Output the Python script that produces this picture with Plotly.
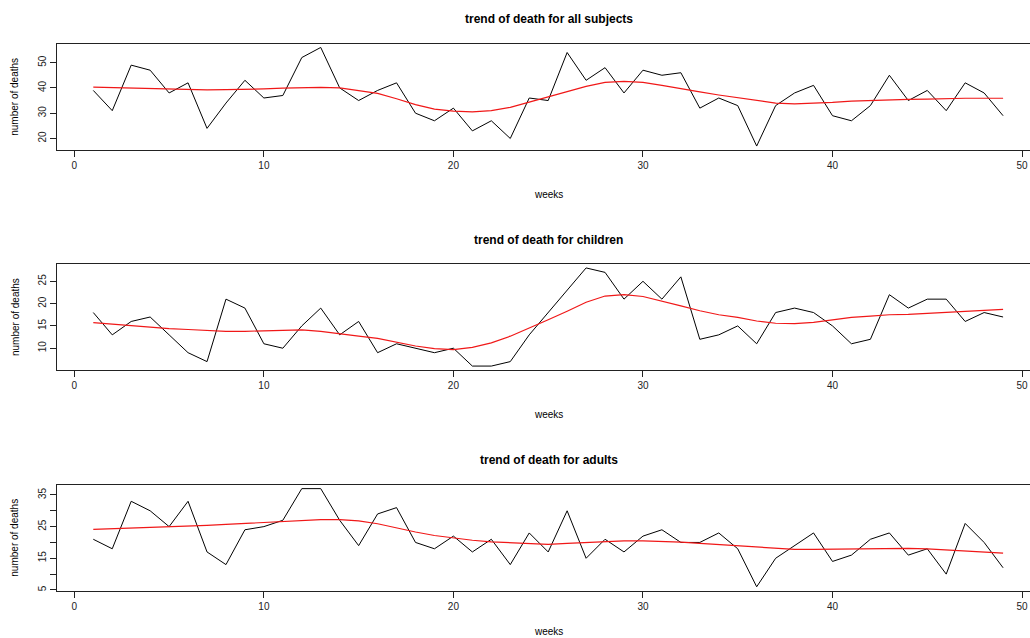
import plotly.graph_objects as go

weeks = list(range(1, 50))

all_deaths = [39, 31, 49, 47, 38, 42, 24, 34, 43, 36, 37, 52, 56, 40, 35, 39, 42, 30, 27, 32,
              23, 27, 20, 36, 35, 54, 43, 48, 38, 47, 45, 46, 32, 36, 33, 17, 33, 38, 41, 29,
              27, 33, 45, 35, 39, 31, 42, 38, 29]
all_trend = [40.3, 40.1, 39.8, 39.6, 39.4, 39.3, 39.2, 39.3, 39.4, 39.6, 39.9, 40.1, 40.2, 40.0, 39.0,
             37.8, 35.7, 33.4, 31.6, 30.8, 30.5, 31.0, 32.3, 34.3, 36.2, 38.5, 40.6, 42.2, 42.6, 42.2,
             41.0, 39.6, 38.4, 37.2, 36.1, 34.9, 34.0, 33.7, 33.9, 34.3, 34.8, 35.1, 35.3, 35.5, 35.6,
             35.8, 35.9, 35.9, 35.9]

child_deaths = [18, 13, 16, 17, 13, 9, 7, 21, 19, 11, 10, 15, 19, 13, 16, 9, 11, 10, 9, 10,
                6, 6, 7, 13, 18, 23, 28, 27, 21, 25, 21, 26, 12, 13, 15, 11, 18, 19, 18, 15,
                11, 12, 22, 19, 21, 21, 16, 18, 17]
child_trend = [15.75, 15.4, 15.0, 14.6, 14.4, 14.2, 14.0, 13.8, 13.8, 13.9, 14.1, 14.1, 13.8, 13.2, 12.7,
               12.2, 11.3, 10.5, 9.9, 9.7, 10.2, 11.2, 12.7, 14.5, 16.4, 18.3, 20.3, 21.7, 22.0, 21.6,
               20.6, 19.5, 18.4, 17.5, 16.9, 16.1, 15.6, 15.5, 15.8, 16.4, 16.9, 17.2, 17.5, 17.6, 17.8,
               18.1, 18.3, 18.5, 18.7]

adult_deaths = [21, 18, 33, 30, 25, 33, 17, 13, 24, 25, 27, 37, 37, 27, 19, 29, 31, 20, 18, 22,
                17, 21, 13, 23, 17, 30, 15, 21, 17, 22, 24, 20, 20, 23, 18, 6, 15, 19, 23, 14,
                16, 21, 23, 16, 18, 10, 26, 20, 12]
adult_trend = [24.1, 24.3, 24.4, 24.6, 24.8, 25.0, 25.4, 25.7, 26.0, 26.2, 26.5, 26.9, 27.2, 27.2, 26.8,
               25.9, 24.5, 23.3, 22.2, 21.4, 20.7, 20.2, 19.9, 19.5, 19.4, 19.7, 20.0, 20.3, 20.5, 20.5,
               20.4, 20.1, 19.7, 19.3, 18.9, 18.4, 18.0, 17.8, 17.8, 17.9, 18.0, 18.1, 18.2, 18.1, 18.0,
               17.7, 17.4, 17.0, 16.6]

titles = ["trend of death for all subjects", "trend of death for children", "trend of death for adults"]
x_ticks = [0, 10, 20, 30, 40, 50]
y_ticks = [[20, 30, 40, 50], [10, 15, 20, 25], [5, 10, 15, 20, 25, 30, 35]]
y_ticktext = [["20", "30", "40", "50"], ["10", "15", "20", "25"], ["5", "", "15", "", "25", "", "35"]]
y_ranges = [[15.44, 57.56], [5.12, 28.88], [4.76, 38.24]]

W, H = 1030, 638
# pixel positions of plot boxes (top, bottom)
boxes = [(43.5, 150.0), (264.0, 370.0), (484.7, 590.7)]
left_px = 56.9
x_range = [-0.92, 50.42]
center_px = 548.5

fig = go.Figure()
series = [(all_deaths, all_trend), (child_deaths, child_trend), (adult_deaths, adult_trend)]
font_fam = "Liberation Sans, Arial, sans-serif"

layout = dict(
    width=W, height=H, margin=dict(l=0, r=0, t=0, b=0),
    paper_bgcolor="white", plot_bgcolor="white", showlegend=False,
    font=dict(family=font_fam, size=10, color="black"),
)
annotations = []
for i, (deaths, trend) in enumerate(series):
    n = "" if i == 0 else str(i + 1)
    fig.add_trace(go.Scatter(x=weeks, y=deaths, mode="lines", line=dict(color="black", width=1),
                             xaxis="x" + n, yaxis="y" + n))
    fig.add_trace(go.Scatter(x=weeks, y=trend, mode="lines", line=dict(color="#F01818", width=1.2),
                             xaxis="x" + n, yaxis="y" + n))
    top, bot = boxes[i]
    layout["xaxis" + n] = dict(
        domain=[left_px / W, 1], range=x_range, anchor="y" + n,
        tickvals=x_ticks, ticks="outside", ticklen=6, tickcolor="#222", tickwidth=1,
        showline=True, linecolor="#222", linewidth=1, mirror=True,
        showgrid=False, zeroline=False, tickfont=dict(size=10, color="#222"),
    )
    layout["yaxis" + n] = dict(
        domain=[1 - bot / H, 1 - top / H], range=y_ranges[i], anchor="x" + n,
        tickvals=y_ticks[i], ticktext=y_ticktext[i], tickangle=-90,
        ticks="outside", ticklen=6, tickcolor="#222", tickwidth=1,
        showline=True, linecolor="#222", linewidth=1,
        showgrid=False, zeroline=False, tickfont=dict(size=10, color="#222"),
    )
    annotations.append(dict(text="<b>" + titles[i] + "</b>", x=center_px / W, y=1 - (top - 24.5) / H,
                            xref="paper", yref="paper", showarrow=False, xanchor="center", yanchor="middle",
                            font=dict(size=12, color="black", family=font_fam)))
    weeks_y = min(bot + 44.3, 631.5)
    annotations.append(dict(text="weeks", x=center_px / W, y=1 - weeks_y / H,
                            xref="paper", yref="paper", showarrow=False, xanchor="center", yanchor="middle",
                            font=dict(size=10, color="black", family=font_fam)))
    annotations.append(dict(text="number of deaths", x=15 / W, y=1 - ((top + bot) / 2) / H,
                            xref="paper", yref="paper", showarrow=False, textangle=-90,
                            xanchor="center", yanchor="middle",
                            font=dict(size=10, color="black", family=font_fam)))
layout["annotations"] = annotations
fig.update_layout(**layout)
fig.write_html("out.html")
